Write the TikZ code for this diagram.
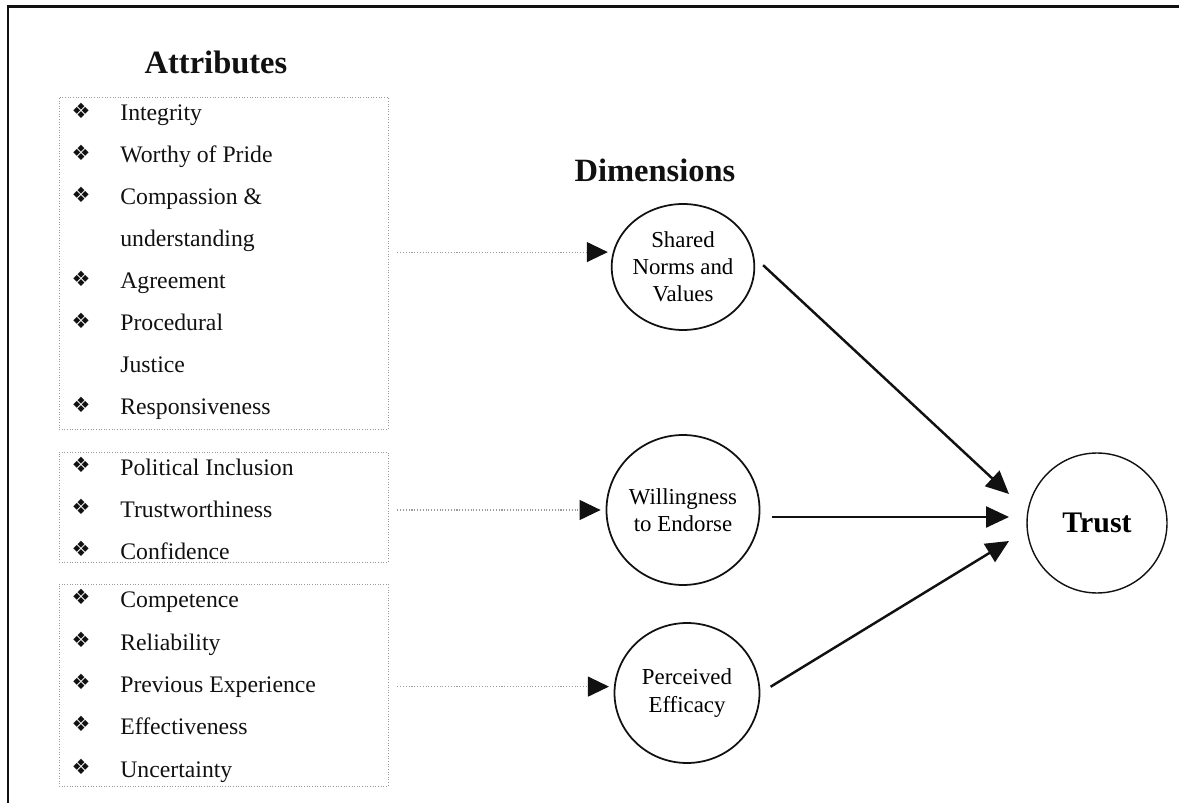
\documentclass[tikz,border=0pt]{standalone}
\usepackage{fontspec}
\setmainfont{Liberation Serif}
\newfontfamily\dingfont{DejaVu Sans}
\usetikzlibrary{arrows.meta,shapes.geometric,fit}
\definecolor{ink}{HTML}{111111}
\definecolor{rule}{HTML}{9A9A9A}
\tikzset{
  frame/.style={ink,line width=1.7pt},
  attrbox/.style={draw=rule,densely dotted,line width=0.5pt,inner sep=0pt},
  head/.style={ink,font=\fontsize{18.5}{22}\selectfont\bfseries},
  bul/.style={ink,inner sep=0pt,font=\dingfont\fontsize{12}{12}\selectfont},
  item/.style={ink,anchor=base west,inner sep=0pt,font=\fontsize{13.5}{16}\selectfont},
  dim/.style={draw=ink,ellipse,line width=1pt,align=center,inner sep=0pt,
    font=\fontsize{13}{15.5}\selectfont},
  feed/.style={rule,densely dotted,line width=0.6pt,shorten <=0.18cm,shorten >=0.1cm,
    -{Triangle[length=4.2mm,width=4mm,color=ink]}},
  link/.style={ink,line width=1.4pt,shorten <=0.24cm,
    -{Triangle[length=4.6mm,width=4.2mm]}},
}

\begin{document}
\begin{tikzpicture}[x=0.02cm,y=-0.02cm]
\useasboundingbox (0,0) rectangle (1179,803);

% ---------------------------------------------------------------- frame
\draw[frame] (1179,7) -- (8,7) -- (8,803);

% ---------------------------------------------------------------- attributes
\node[head] (attrhead) at (216,62) {Attributes};

\node[attrbox,fit={(59,97) (388,429)}] (box1) {};
\node[attrbox,fit={(59,452) (388,562)}] (box2) {};
\node[attrbox,fit={(59,584) (388,786)}] (box3) {};

\foreach \yy/\txt [count=\i] in {121/Integrity, 163/Worthy of Pride,
    205/Compassion \&, 247/understanding, 289/Agreement, 331/Procedural,
    373/Justice, 415/Responsiveness, 475/Political Inclusion,
    517/Trustworthiness, 559/Confidence, 607/Competence, 650/Reliability,
    692/Previous Experience, 734/Effectiveness, 777/Uncertainty}
  \node[item] (attr-\i) at (120,\yy) {\txt};

% bullets (none in front of the wrapped lines)
\foreach \yy [count=\i] in {121,163,205,289,331,415,475,517,559,607,650,692,734,777}
  \node[bul] (mark-\i) at (81,\yy-10) {❖};

% ---------------------------------------------------------------- dimensions
\node[head] (dimhead) at (655,170) {Dimensions};

\node[dim,minimum width=2.8cm,minimum height=2.52cm] (shared) at (683,267)
     {Shared\\Norms and\\Values};
\node[dim,minimum width=2.82cm,minimum height=3.0cm] (willing) at (683,510)
     {Willingness\\to Endorse};
\node[dim,minimum width=2.9cm,minimum height=2.8cm] (efficacy) at (687,693)
     {Perceived\\Efficacy};

\draw[feed] (box1.east |- shared.168) -- (shared.168);
\draw[feed] (box2.east |- willing.west) -- (willing.west);
\draw[feed] (box3.east |- efficacy.175) -- (efficacy.175);

% ---------------------------------------------------------------- trust
\node[draw=ink,circle,line width=0.8pt,minimum size=2.8cm,inner sep=0pt,
      font=\fontsize{17}{20}\selectfont\bfseries] (trust) at (1097,523) {Trust};

\coordinate (in-1) at (1009,494);
\coordinate (in-2) at (1009,517);
\coordinate (in-3) at (1009,541);

\draw[link] (shared.8) -- (in-1);
\draw[link] (willing.east |- in-2) -- (in-2);
\draw[link] (efficacy.east) -- (in-3);

\end{tikzpicture}
\end{document}
